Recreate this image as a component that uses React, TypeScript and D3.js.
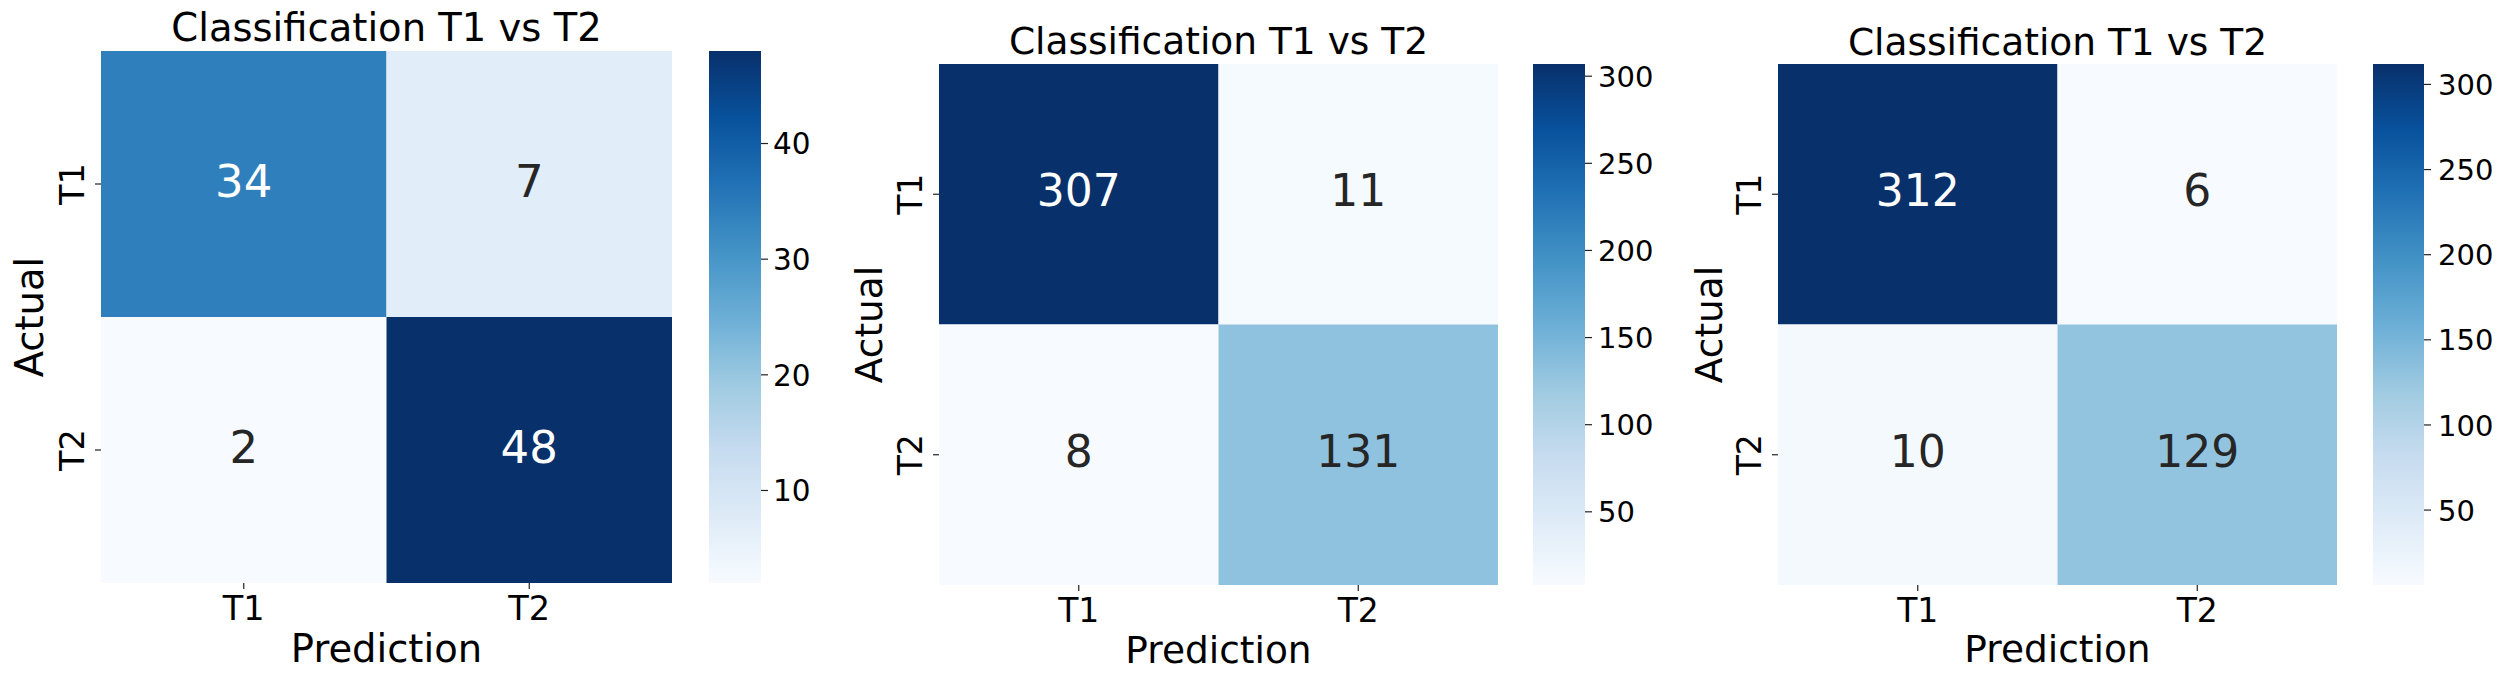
import React from "react";
import * as d3 from "d3";

const categories = ["T1", "T2"];
const matrix1 = [[34, 7], [2, 48]];
const matrix2 = [[307, 11], [8, 131]];
const matrix3 = [[312, 6], [10, 129]];
const cbTicks1 = [10, 20, 30, 40];
const cbTicks2 = [50, 100, 150, 200, 250, 300];
const cbTicks3 = [50, 100, 150, 200, 250, 300];
const titleText = "Classification T1 vs T2";
const xLabelText = "Prediction";
const yLabelText = "Actual";

const BLUES = ["#f7fbff", "#deebf7", "#c6dbef", "#9ecae1", "#6baed6", "#4292c6", "#2171b5", "#08519c", "#08306b"];
const blues = d3
  .scaleLinear<string>()
  .domain(BLUES.map((_, i) => i / (BLUES.length - 1)))
  .range(BLUES)
  .interpolate(d3.interpolateRgb)
  .clamp(true);

function luminance(c: string) {
  const rgb = d3.rgb(c);
  const f = (v: number) => {
    const x = v / 255;
    return x <= 0.03928 ? x / 12.92 : Math.pow((x + 0.055) / 1.055, 2.4);
  };
  return 0.2126 * f(rgb.r) + 0.7152 * f(rgb.g) + 0.0722 * f(rgb.b);
}

const FONT = "'DejaVu Sans', sans-serif";

type Layout = {
  id: string;
  left: number; right: number; top: number; bottom: number;
  cbX0: number; cbX1: number; cbLabelX: number;
  titleSize: number; annotSize: number; annotShift: number; tickSize: number; cbSize: number;
  titleY: number; xTickY: number; xLabelY: number; yLabelX: number; yTickX: number;
};

const panels: { data: number[][]; ticks: number[]; layout: Layout }[] = [
  {
    data: matrix1, ticks: cbTicks1,
    layout: { id: "p1", left: 101, right: 672, top: 51, bottom: 583, cbX0: 709, cbX1: 761, cbLabelX: 773,
      titleSize: 38.5, annotSize: 45, annotShift: 3, tickSize: 33.5, cbSize: 29.5, titleY: 41, xTickY: 620, xLabelY: 662, yLabelX: 43, yTickX: 84 },
  },
  {
    data: matrix2, ticks: cbTicks2,
    layout: { id: "p2", left: 939, right: 1498, top: 64, bottom: 585, cbX0: 1533, cbX1: 1585, cbLabelX: 1598,
      titleSize: 37.5, annotSize: 44, annotShift: 4, tickSize: 33, cbSize: 29, titleY: 54, xTickY: 622, xLabelY: 663, yLabelX: 882, yTickX: 922 },
  },
  {
    data: matrix3, ticks: cbTicks3,
    layout: { id: "p3", left: 1778, right: 2337, top: 64, bottom: 585, cbX0: 2373, cbX1: 2424, cbLabelX: 2438,
      titleSize: 37.5, annotSize: 44, annotShift: 4, tickSize: 33, cbSize: 29, titleY: 55, xTickY: 622, xLabelY: 662, yLabelX: 1722, yTickX: 1761 },
  },
];

function Heatmap({ data, ticks, layout: L }: { data: number[][]; ticks: number[]; layout: Layout }) {
  const flat = data.flat();
  const vmin = d3.min(flat)!;
  const vmax = d3.max(flat)!;
  const x = d3.scaleBand<string>().domain(categories).range([L.left, L.right]);
  const y = d3.scaleBand<string>().domain(categories).range([L.top, L.bottom]);
  const norm = d3.scaleLinear().domain([vmin, vmax]).range([0, 1]);
  const cbY = d3.scaleLinear().domain([vmin, vmax]).range([L.bottom, L.top]);
  const cx = (L.left + L.right) / 2;
  const cy = (L.top + L.bottom) / 2;
  const gradId = `grad-${L.id}`;
  return (
    <g fontFamily={FONT}>
      <defs>
        <linearGradient id={gradId} x1="0" y1="1" x2="0" y2="0">
          {BLUES.map((c, i) => (
            <stop key={i} offset={i / (BLUES.length - 1)} stopColor={c} />
          ))}
        </linearGradient>
      </defs>
      {data.map((row, ri) =>
        row.map((v, ci) => {
          const fill = blues(norm(v));
          const x0 = x(categories[ci])!;
          const y0 = y(categories[ri])!;
          const textColor = luminance(fill) > 0.408 ? "#262626" : "#ffffff";
          return (
            <g key={`${ri}-${ci}`}>
              <rect x={x0} y={y0} width={x.bandwidth()} height={y.bandwidth()} fill={fill} />
              <text
                x={x0 + x.bandwidth() / 2}
                y={y0 + y.bandwidth() / 2 + (0.729 * L.annotSize) / 2 - L.annotShift}
                textAnchor="middle"
                fontSize={L.annotSize}
                fill={textColor}
              >
                {v}
              </text>
            </g>
          );
        })
      )}
      {categories.map((c) => {
        const tx = x(c)! + x.bandwidth() / 2;
        return (
          <g key={`xt-${c}`}>
            <line x1={tx} x2={tx} y1={L.bottom} y2={L.bottom + 6} stroke="#222" strokeWidth={1.2} />
            <text x={tx} y={L.xTickY} textAnchor="middle" fontSize={L.tickSize} fill="#000">{c}</text>
          </g>
        );
      })}
      {categories.map((c) => {
        const ty = y(c)! + y.bandwidth() / 2;
        return (
          <g key={`yt-${c}`}>
            <line x1={L.left - 6} x2={L.left} y1={ty} y2={ty} stroke="#222" strokeWidth={1.2} />
            <text
              transform={`translate(${L.yTickX},${ty}) rotate(-90)`}
              textAnchor="middle"
              fontSize={L.tickSize}
              fill="#000"
            >
              {c}
            </text>
          </g>
        );
      })}
      <text x={cx} y={L.titleY} textAnchor="middle" fontSize={L.titleSize} fill="#000">{titleText}</text>
      <text x={cx} y={L.xLabelY} textAnchor="middle" fontSize={L.titleSize} fill="#000">{xLabelText}</text>
      <text transform={`translate(${L.yLabelX},${cy}) rotate(-90)`} textAnchor="middle" fontSize={L.titleSize} fill="#000">
        {yLabelText}
      </text>
      <rect x={L.cbX0} y={L.top} width={L.cbX1 - L.cbX0} height={L.bottom - L.top} fill={`url(#${gradId})`} />
      {ticks.map((t) => {
        const ty = cbY(t);
        return (
          <g key={`cb-${t}`}>
            <line x1={L.cbX1} x2={L.cbX1 + 7} y1={ty} y2={ty} stroke="#222" strokeWidth={1.2} />
            <text x={L.cbLabelX} y={ty + 0.364 * L.cbSize} fontSize={L.cbSize} fill="#000">{t}</text>
          </g>
        );
      })}
    </g>
  );
}

export default function App() {
  return (
    <svg
      width={2502}
      height={679}
      style={{ position: "absolute", left: 0, top: 0, background: "#fff" }}
      xmlns="http://www.w3.org/2000/svg"
    >
      <rect x={0} y={0} width={2502} height={679} fill="#fff" />
      {panels.map((p) => (
        <Heatmap key={p.layout.id} data={p.data} ticks={p.ticks} layout={p.layout} />
      ))}
    </svg>
  );
}
